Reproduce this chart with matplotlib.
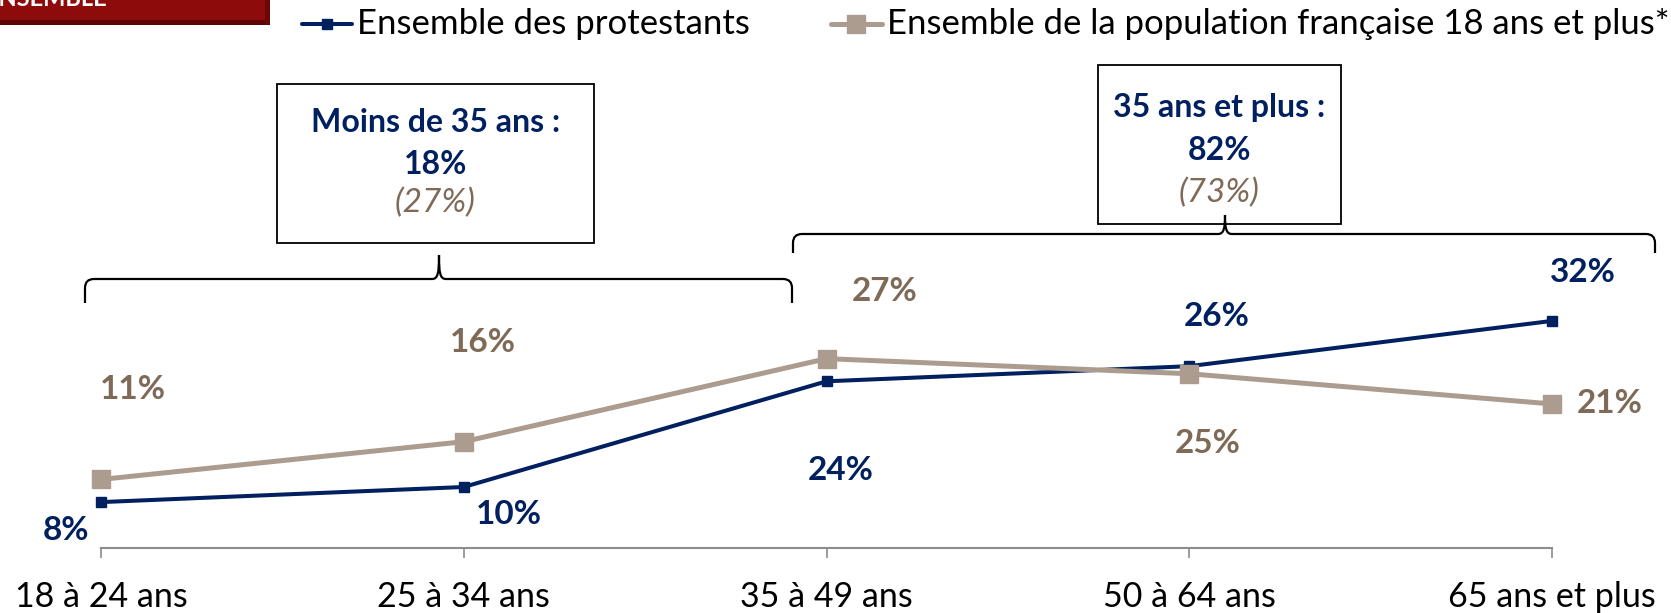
import matplotlib
matplotlib.use('Agg')
import matplotlib.pyplot as plt
from matplotlib.patches import Rectangle, PathPatch
from matplotlib.path import Path

# ---------------- data ----------------
categories = ["18 à 24 ans", "25 à 34 ans", "35 à 49 ans", "50 à 64 ans", "65 ans et plus"]
protestants = [8, 10, 24, 26, 32]
population = [11, 16, 27, 25, 21]
series_names = ["Ensemble des protestants",
                "Ensemble de la population française 18 ans et plus*"]
group_labels = ["Moins de 35 ans :", "35 ans et plus :"]
group_prot = [18, 82]
group_pop = [27, 73]
header = "ENSEMBLE"

# ---------------- style ----------------
BLUE = '#002060'
TAUPE = '#AB9C8F'
BROWN = '#7E6A56'
GRAY = '#8C8C8C'

W, H, DPI = 1671, 613, 100
plt.rcParams['font.family'] = ['Lato', 'DejaVu Sans']
fig = plt.figure(figsize=(W / DPI, H / DPI), dpi=DPI)

# main axes: bottom at pixel row 548, top at figure top
base_px = 548
ax = fig.add_axes([0, (H - base_px) / H, 1, base_px / H])
px0, pstep = 101, 362.75
ax.set_xlim(-px0 / pstep, (W - px0) / pstep)
y0px, ppu = 562.5, 7.55
ax.set_ylim((y0px - base_px) / ppu, y0px / ppu)

x = list(range(len(categories)))
l_prot, = ax.plot(x, protestants, color=BLUE, lw=2.9, marker='s', ms=6.5,
                  solid_joinstyle='miter', zorder=3)
l_pop, = ax.plot(x, population, color=TAUPE, lw=3.6, marker='s', ms=13.5,
                 solid_joinstyle='miter', zorder=4)

for s in ['top', 'left', 'right']:
    ax.spines[s].set_visible(False)
ax.spines['bottom'].set_bounds(0, len(categories) - 1)
ax.spines['bottom'].set_color(GRAY)
ax.spines['bottom'].set_linewidth(1.5)
ax.set_yticks([])
ax.set_xticks(x, categories)
ax.tick_params(axis='x', direction='out', length=7, width=1.2, color=GRAY,
               labelsize=24.5, pad=17, labelcolor='black')
ax.patch.set_visible(False)

# data labels (offsets in pixels, relative to the point)
prot_off = [(-35, -28), (45, -28), (14, -89), (27, 50), (31, 48)]
pop_off = [(32, 90), (19, 99), (58, 67), (18, -70), (58, 0)]
for i, v in enumerate(protestants):
    ax.annotate(f"{v}%", (x[i], v), xytext=prot_off[i], textcoords='offset pixels',
                ha='center', va='center', fontsize=24, fontweight='bold', color=BLUE)
for i, v in enumerate(population):
    ax.annotate(f"{v}%", (x[i], v), xytext=pop_off[i], textcoords='offset pixels',
                ha='center', va='center', fontsize=24, fontweight='bold', color=BROWN)

# ---------------- overlay in pixel coordinates ----------------
ov = fig.add_axes([0, 0, 1, 1])
ov.set_xlim(0, W)
ov.set_ylim(H, 0)
ov.axis('off')
ov.patch.set_visible(False)

# header tab
ov.add_patch(Rectangle((0, 0), 270, 25, facecolor='#8E0B0B', edgecolor='none'))
ov.add_patch(Rectangle((0, 20), 270, 5, facecolor='#5E0606', edgecolor='none'))
ov.add_patch(Rectangle((265, 0), 5, 25, facecolor='#6A0707', edgecolor='none'))
ov.text(107, 6, header, ha='right', va='baseline', color='white',
        fontsize=17, fontweight='bold', clip_on=True)

# legend
ly = 24
ov.plot([302, 352], [ly, ly], color=BLUE, lw=2.9, solid_capstyle='round')
ov.plot([327], [ly], color=BLUE, marker='s', ms=6.5)
ov.text(357, ly, series_names[0], ha='left', va='center', fontsize=25, color='black')
ov.plot([831, 882], [ly, ly], color=TAUPE, lw=3.6, solid_capstyle='round')
ov.plot([856], [ly], color=TAUPE, marker='s', ms=13.5)
ov.text(887, ly, series_names[1], ha='left', va='center', fontsize=25, color='black')

# group boxes
boxes = [(277, 84, 594, 243), (1098, 65, 1341, 224)]
text_rows = [(123, 165, 203), (108, 150, 193)]
for (bx0, by0, bx1, by1), rows, lab, gp, gq in zip(boxes, text_rows, group_labels,
                                                   group_prot, group_pop):
    ov.add_patch(Rectangle((bx0, by0), bx1 - bx0, by1 - by0, facecolor='white',
                           edgecolor='black', lw=1.3))
    cx = (bx0 + bx1) / 2
    ov.text(cx, rows[0], lab, ha='center', va='center', fontsize=23,
            fontweight='bold', color=BLUE)
    ov.text(cx, rows[1], f"{gp}%", ha='center', va='center', fontsize=23,
            fontweight='bold', color=BLUE)
    ov.text(cx, rows[2], f"({gq}%)", ha='center', va='center', fontsize=24,
            fontstyle='italic', color=BROWN)


def brace(x0, x1, xm, yh, yend, ytip, r=9):
    verts = [(x0, yend), (x0, yh + r), (x0, yh), (x0 + r, yh),
             (xm - 7, yh), (xm - 1, yh), (xm, yh - 6), (xm, ytip),
             (xm, yh - 6), (xm + 1, yh), (xm + 7, yh),
             (x1 - r, yh), (x1, yh), (x1, yh + r), (x1, yend)]
    codes = [Path.MOVETO, Path.LINETO, Path.CURVE3, Path.CURVE3,
             Path.LINETO, Path.CURVE4, Path.CURVE4, Path.CURVE4,
             Path.CURVE4, Path.CURVE4, Path.CURVE4,
             Path.LINETO, Path.CURVE3, Path.CURVE3, Path.LINETO]
    ov.add_patch(PathPatch(Path(verts, codes), facecolor='none',
                           edgecolor='black', lw=1.6))


brace(85, 792, 439, 279, 303, 255)
brace(793, 1655, 1225, 234, 253, 215)

fig.savefig('out.png', dpi=DPI)
